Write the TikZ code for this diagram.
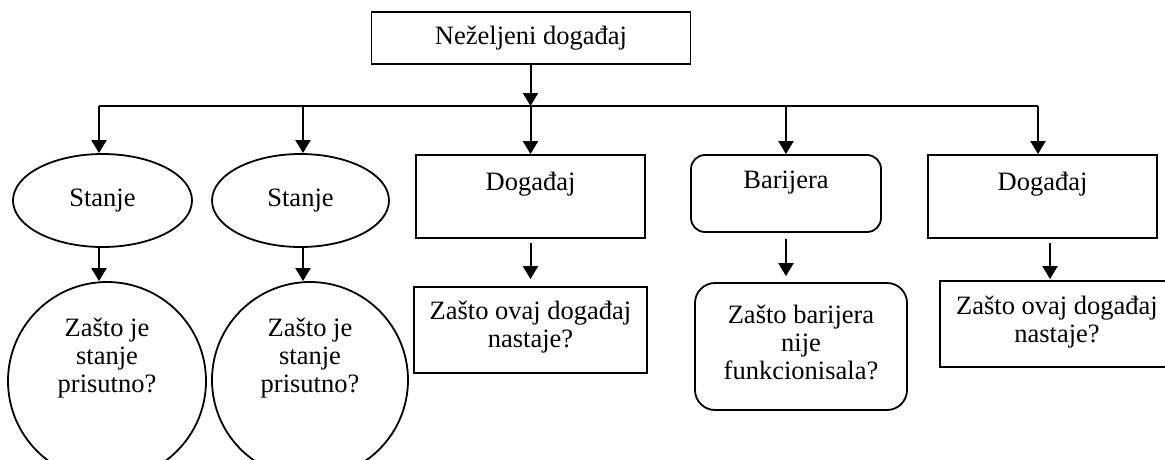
\documentclass[tikz,border=0pt]{standalone}
\usepackage{fontspec}
\setmainfont{Liberation Serif}
\usetikzlibrary{arrows.meta,shapes.geometric}
\begin{document}
\begin{tikzpicture}[x=1pt,y=-1pt,
  every node/.style={font=\fontsize{26.5}{28}\selectfont},
  box/.style={draw, line width=1.8pt, rectangle, inner sep=0pt},
  rbox/.style={box, rounded corners=14pt},
  oval/.style={draw, line width=1.8pt, ellipse, inner sep=0pt},
  disc/.style={draw, line width=1.8pt, circle, inner sep=0pt},
  txt/.style={align=center, inner sep=0pt},
  link/.style={line width=2pt, -{Triangle[length=13pt,width=15pt]}},
  bar/.style={line width=2pt}]
\useasboundingbox (0,0) rectangle (1165,459);
\clip (0,0) rectangle (1165,459);

% top event
\node[box, minimum width=319pt, minimum height=52pt] (top) at (531,38) {Neželjeni događaj};

% distribution bus
\coordinate (busL) at (99,106);
\coordinate (busM) at (303,106);
\coordinate (busR) at (1038,106);

% first level
\node[oval, minimum width=179pt, minimum height=93pt] (s1) at (102.5,200.5) {Stanje};
\node[oval, minimum width=177pt, minimum height=93pt] (s2) at (300.5,200.5) {Stanje};
\node[box, minimum width=229pt, minimum height=83pt] (e1) at (530.5,196.5) {};
\node[txt] (e1t) at (530.5,184) {Događaj};
\node[rbox, minimum width=190pt, minimum height=77pt] (b) at (786,193.5) {};
\node[txt] (bt) at (786,183) {Barijera};
\node[box, minimum width=229pt, minimum height=83pt] (e2) at (1042.5,196.5) {};
\node[txt] (e2t) at (1042.5,184) {Događaj};

% second level
\node[disc, minimum size=198pt] (c1) at (107,381) {};
\node[txt] (c1t) at (107,358) {Zašto je\\stanje\\prisutno?};
\node[disc, minimum size=196pt] (c2) at (310,380) {};
\node[txt] (c2t) at (310,358) {Zašto je\\stanje\\prisutno?};
\node[box, minimum width=233pt, minimum height=86pt] (q1) at (530.5,330) {};
\node[txt] (q1t) at (530.5,327) {Zašto ovaj događaj\\nastaje?};
\node[rbox, rounded corners=20pt, minimum width=212pt, minimum height=127pt] (bq) at (801,346.5) {};
\node[txt] (bqt) at (801,342) {Zašto barijera\\nije\\funkcionisala?};
\node[box, minimum width=228pt, minimum height=86pt] (q2) at (1054,324) {};
\node[txt] (q2t) at (1057,322) {Zašto ovaj događaj\\nastaje?};

% connectors
\draw[link] (top.south -| e1.north) -- (busL -| e1.north);
\draw[bar] (busL) -- (busR);
\draw[link] (busL) -- (busL |- s1.north);
\draw[link] (busM) -- (busM |- s2.north);
\draw[link] (busL -| e1.north) -- (e1.north);
\draw[link] (busL -| b.north) -- (b.north);
\draw[link] (busR) -- (busR |- e2.north);

\draw[link] (busL |- s1.south) -- (busL |- c1.north);
\draw[link] (busM |- s2.south) -- (busM |- c2.north);
\draw[link, shorten <=4pt, shorten >=7pt] (e1.south) -- (e1.south |- q1.north);
\draw[link, shorten <=6pt, shorten >=6pt] (b.south) -- (b.south |- bq.north);
\draw[link, shorten <=4pt, shorten >=1pt] ([xshift=7.5pt]e2.south) -- ([xshift=7.5pt]e2.south |- q2.north);
\end{tikzpicture}
\end{document}
